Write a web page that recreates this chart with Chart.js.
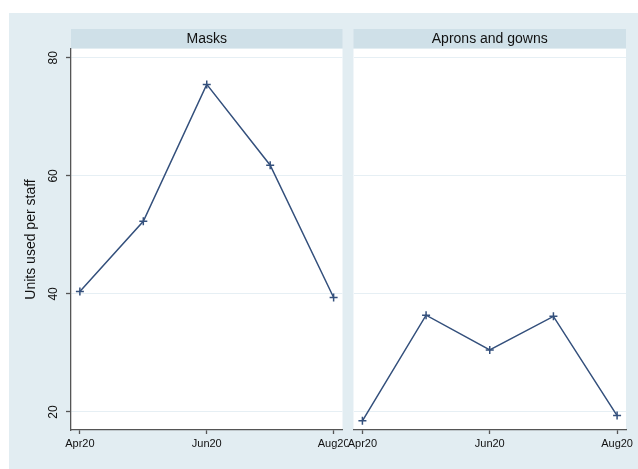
<!DOCTYPE html>
<html lang="en">
<head>
    <meta charset="UTF-8">
    <title>Units used per staff</title>
    <style>
        body {
            margin: 0;
            background: #ffffff;
            font-family: "Liberation Sans", Arial, sans-serif;
        }
        #bg {
            position: absolute;
            left: 9px;
            top: 13px;
            width: 629px;
            height: 456px;
            background: #e2edf2;
        }
        canvas {
            position: absolute;
            top: 0;
        }
        #left-chart { left: 0; }
        #right-chart { left: 348px; }
    </style>
</head>
<body>
    <div id="bg"></div>
    <canvas id="left-chart" width="348" height="469"></canvas>
    <canvas id="right-chart" width="290" height="469"></canvas>

    <script src="https://cdn.jsdelivr.net/npm/chart.js"></script>
    <script>
        const months = ['Apr20', 'May20', 'Jun20', 'Jul20', 'Aug20'];
        const xTickIndex = [0, 2, 4];
        const yTicks = [20, 40, 60, 80];
        const masks = [40.4, 52.3, 75.5, 61.8, 39.4];
        const aprons = [18.5, 36.4, 30.5, 36.2, 19.4];

        const lineColor = '#34507c';
        const axisColor = '#555555';
        const gridColor = '#e6eff4';

        // white plot region + title strip
        const panelBg = {
            id: 'panelBg',
            beforeDraw(chart) {
                const { ctx, chartArea } = chart;
                ctx.save();
                ctx.fillStyle = '#cfe0e8';
                ctx.fillRect(chartArea.left, 29, chartArea.right - chartArea.left, 19);
                ctx.fillStyle = '#ffffff';
                ctx.fillRect(chartArea.left, chartArea.top, chartArea.right - chartArea.left, chartArea.bottom - chartArea.top);
                ctx.restore();
            }
        };

        function makePanel(id, title, values, showY) {
            const points = values.map((v, i) => ({ x: i, y: v }));
            const yScale = {
                type: 'linear',
                min: 16.95,
                max: 81.5,
                afterBuildTicks: s => { s.ticks = yTicks.map(v => ({ value: v })); },
                afterFit: s => {
                    s.width = showY ? 71 : 5;
                    s.paddingTop = 0;
                    s.paddingBottom = 0;
                },
                grid: {
                    color: gridColor,
                    lineWidth: 1,
                    drawTicks: showY,
                    tickLength: 5,
                    tickColor: axisColor,
                    tickWidth: 1.3
                },
                border: { display: showY, color: axisColor, width: 1.3 },
                ticks: {
                    display: showY,
                    minRotation: 90,
                    maxRotation: 90,
                    crossAlign: 'center',
                    padding: 6,
                    color: '#111',
                    font: { family: 'Liberation Sans', size: 12 }
                },
                title: {
                    display: showY,
                    text: 'Units used per staff',
                    color: '#111',
                    padding: { top: 23, bottom: 0 },
                    font: { family: 'Liberation Sans', size: 14 }
                }
            };

            return new Chart(document.getElementById(id), {
                type: 'line',
                data: {
                    datasets: [{
                        label: title,
                        data: points,
                        borderColor: lineColor,
                        backgroundColor: lineColor,
                        borderWidth: 1.5,
                        pointStyle: 'cross',
                        pointRadius: 4,
                        pointBorderWidth: 1.5,
                        pointBorderColor: lineColor,
                        tension: 0
                    }]
                },
                options: {
                    responsive: false,
                    animation: false,
                    devicePixelRatio: 1,
                    layout: {
                        padding: { top: 29, left: 0, right: showY ? 5 : 12, bottom: 0 }
                    },
                    plugins: {
                        legend: { display: false },
                        tooltip: { enabled: false },
                        title: {
                            display: true,
                            text: title,
                            fullSize: false,
                            color: '#111',
                            padding: { top: 3, bottom: 2 },
                            font: { family: 'Liberation Sans', size: 14, weight: 'normal', lineHeight: 1.07 }
                        }
                    },
                    scales: {
                        x: {
                            type: 'linear',
                            min: -0.14,
                            max: 4.14,
                            afterBuildTicks: s => { s.ticks = xTickIndex.map(v => ({ value: v })); },
                            afterFit: s => {
                                s.height = 39;
                                s.paddingLeft = 0;
                                s.paddingRight = 0;
                            },
                            grid: {
                                display: true,
                                drawOnChartArea: false,
                                drawTicks: true,
                                tickLength: 4,
                                tickColor: axisColor,
                                tickWidth: 1.3
                            },
                            border: { display: true, color: axisColor, width: 1.3 },
                            ticks: {
                                autoSkip: false,
                                maxRotation: 0,
                                padding: 3,
                                color: '#111',
                                font: { family: 'Liberation Sans', size: 11 },
                                callback: v => months[v]
                            }
                        },
                        y: yScale
                    }
                },
                plugins: [panelBg]
            });
        }

        makePanel('left-chart', 'Masks', masks, true);
        makePanel('right-chart', 'Aprons and gowns', aprons, false);
    </script>
</body>
</html>
